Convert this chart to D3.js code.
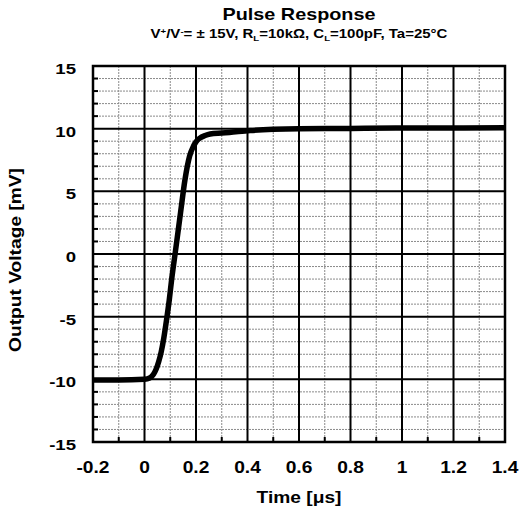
<!DOCTYPE html>
<html>
<head>
<meta charset="utf-8">
<script src="https://cdn.jsdelivr.net/npm/d3@7"></script>
<style>
  body { margin: 0; background: #fff; }
  text { font-family: Arial, "Liberation Sans", sans-serif; font-weight: bold; fill: #000; }
</style>
</head>
<body>
<svg width="520" height="512"></svg>
<script>
// Pulse response data
const timeUs = [-0.2, -0.1, 0, 0.02, 0.035, 0.045, 0.055, 0.065, 0.075, 0.086, 0.096, 0.105, 0.12, 0.14, 0.157, 0.175, 0.19, 0.2, 0.215, 0.235, 0.255, 0.3, 0.33, 0.41, 0.5, 0.6, 0.8, 1.0, 1.2, 1.4];
const outputMv = [-10.05, -10.05, -10.0, -9.9, -9.6, -9.2, -8.6, -7.8, -6.7, -5.2, -3.7, -2.1, 0.2, 3.3, 5.9, 7.8, 8.6, 8.95, 9.25, 9.45, 9.57, 9.65, 9.7, 9.85, 9.95, 10.0, 10.02, 10.05, 10.05, 10.08];

const xTicks = [-0.2, 0, 0.2, 0.4, 0.6, 0.8, 1, 1.2, 1.4];
const yTicks = [-15, -10, -5, 0, 5, 10, 15];

const svg = d3.select('svg');
const margin = { left: 93, top: 66, right: 15, bottom: 70 };
const width = 520 - margin.left - margin.right;
const height = 512 - margin.top - margin.bottom;
const stretch = 1.2;   // the original lettering is wider than Arial

const x = d3.scaleLinear().domain([-0.2, 1.4]).range([0, width]);
const y = d3.scaleLinear().domain([-15, 15]).range([height, 0]);

const g = svg.append('g').attr('transform', `translate(${margin.left},${margin.top})`);

// minor grid (dashed)
const xMinor = d3.range(-0.1, 1.4, 0.2).map(v => +v.toFixed(2));
const yMinor = d3.range(-14, 15, 1).filter(v => v % 5 !== 0);

g.append('g').selectAll('line').data(xMinor).join('line')
    .attr('x1', d => x(d)).attr('x2', d => x(d))
    .attr('y1', 0).attr('y2', height)
    .attr('stroke', '#8a8a8a').attr('stroke-width', 1).attr('stroke-dasharray', '2,1');
g.append('g').selectAll('line').data(yMinor).join('line')
    .attr('x1', 0).attr('x2', width)
    .attr('y1', d => y(d)).attr('y2', d => y(d))
    .attr('stroke', '#8a8a8a').attr('stroke-width', 1).attr('stroke-dasharray', '2,1');

// minor ticks on the left and bottom edges
g.append('g').selectAll('line').data(yMinor).join('line')
    .attr('x1', 0).attr('x2', 5)
    .attr('y1', d => y(d)).attr('y2', d => y(d))
    .attr('stroke', '#000').attr('stroke-width', 2);
g.append('g').selectAll('line').data(xMinor).join('line')
    .attr('x1', d => x(d)).attr('x2', d => x(d))
    .attr('y1', height).attr('y2', height - 5)
    .attr('stroke', '#000').attr('stroke-width', 2);

// major grid
g.append('g').selectAll('line').data(xTicks).join('line')
    .attr('x1', d => x(d)).attr('x2', d => x(d))
    .attr('y1', 0).attr('y2', height)
    .attr('stroke', '#000').attr('stroke-width', 2);
g.append('g').selectAll('line').data(yTicks).join('line')
    .attr('x1', 0).attr('x2', width)
    .attr('y1', d => y(d)).attr('y2', d => y(d))
    .attr('stroke', '#000').attr('stroke-width', 2);

// frame
g.append('rect').attr('width', width).attr('height', height)
    .attr('fill', 'none').attr('stroke', '#000').attr('stroke-width', 2.5);

// curve
const line = d3.line().x((d, i) => x(timeUs[i])).y(d => y(d)).curve(d3.curveMonotoneX);
g.append('path').datum(outputMv)
    .attr('d', line)
    .attr('fill', 'none').attr('stroke', '#000').attr('stroke-width', 5.5)
    .attr('stroke-linejoin', 'round');

// stretched text helper
function label(parent, px, py, rot, size, anchor, txt) {
    return parent.append('text')
        .attr('transform', `translate(${px},${py}) rotate(${rot}) scale(${stretch},1)`)
        .attr('text-anchor', anchor).attr('font-size', size)
        .text(txt);
}

xTicks.forEach(d => label(g, x(d), height + 31, 0, 16, 'middle', String(d)));
yTicks.forEach(d => label(g, -17, y(d) + 8, 0, 15.5, 'end', String(d)));

label(svg, margin.left + width / 2, 503, 0, 16, 'middle', 'Time [μs]');
label(svg, 21, margin.top + height / 2 + 6, -90, 16, 'middle', 'Output Voltage [mV]');

// titles
label(svg, margin.left + width / 2, 20, 0, 16.5, 'middle', 'Pulse Response');

const sub = label(svg, margin.left + width / 2, 38, 0, 12.5, 'middle', null);
sub.append('tspan').text('V');
sub.append('tspan').attr('dy', -4).attr('font-size', 8).text('+');
sub.append('tspan').attr('dy', 4).text('/V');
sub.append('tspan').attr('dy', -4).attr('font-size', 8).text('-');
sub.append('tspan').attr('dy', 4).text('= ± 15V, R');
sub.append('tspan').attr('dy', 3).attr('font-size', 8).text('L');
sub.append('tspan').attr('dy', -3).text('=10kΩ, C');
sub.append('tspan').attr('dy', 3).attr('font-size', 8).text('L');
sub.append('tspan').attr('dy', -3).text('=100pF, Ta=25°C');
</script>
</body>
</html>
